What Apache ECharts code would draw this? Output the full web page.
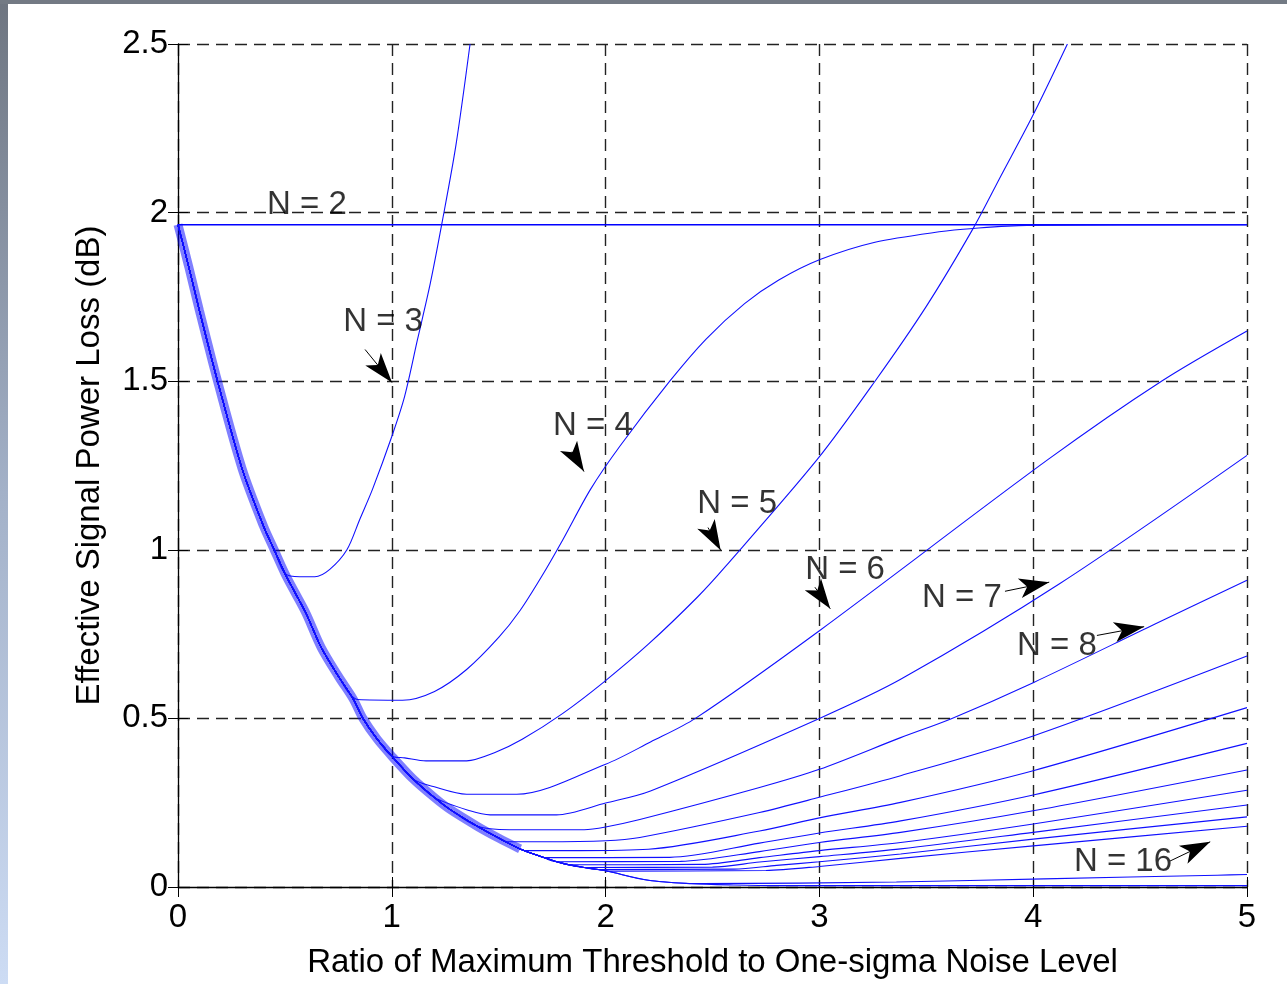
<!DOCTYPE html>
<html>
<head>
    <meta charset="utf-8">
    <title>Effective Signal Power Loss</title>
    <script src="https://cdn.jsdelivr.net/npm/echarts@6/dist/echarts.min.js"></script>
    <style>
        *{margin:0;padding:0}
        #main {
            width: 1287px;
            height: 984px;
            background: #fff;
        }
    </style>
</head>
<body>
    <div id="main"></div>
    <script type="text/javascript">
        // common descent that all N >= 3 curves follow before they break away
        var envelope = [[0,1.964],[0.05,1.84],[0.1,1.71],[0.185,1.5],[0.3,1.24],[0.4,1.07],[0.45,1.0],[0.5,0.93],
            [0.55,0.87],[0.6,0.81],[0.67,0.71],[0.75,0.625],[0.82,0.557],[0.865,0.5],[0.93,0.44],[1.0,0.388],
            [1.1,0.32],[1.2,0.265],[1.27,0.231],[1.4,0.18],[1.5,0.145],[1.6,0.113],[1.7,0.09],[1.8,0.07],
            [1.9,0.058],[2.0,0.048],[2.2,0.02],[2.4,0.01],[2.6,0.006],[2.8,0.004],[5,0.004]];

        // own part of each curve, from the point where it leaves the envelope
        var n2 = [[0,1.964],[5,1.964]];
        var n3 = [[0.5,0.93],[0.57,0.92],[0.64,0.92],[0.71,0.942],[0.79,1.0],[0.85,1.09],[0.91,1.18],[1.0,1.336],
            [1.06,1.455],[1.12,1.623],[1.18,1.79],[1.235,1.97],[1.3,2.2],[1.366,2.5]];
        var n4 = [[0.8,0.575],[0.84,0.556],[1.05,0.554],[1.2,0.58],[1.35,0.645],[1.5,0.74],[1.6,0.82],[1.7,0.92],
            [1.8,1.03],[1.93,1.18],[2.07,1.31],[2.3,1.5],[2.47,1.625],[2.65,1.73],[2.81,1.8],[3.0,1.86],
            [3.26,1.912],[3.56,1.943],[3.72,1.953],[3.97,1.962],[5,1.964]];
        var n5 = [[1.0,0.388],[1.06,0.383],[1.16,0.374],[1.35,0.374],[1.48,0.398],[1.61,0.438],[1.8,0.515],[1.99,0.607],
            [2.2,0.72],[2.43,0.86],[2.56,0.95],[2.99,1.268],[3.26,1.5],[3.5,1.722],[3.72,1.954],[3.85,2.11],[4.0,2.29],[4.16,2.5]];
        var n6 = [[1.1,0.32],[1.194,0.298],[1.35,0.275],[1.584,0.275],[2.0,0.364],[2.21,0.43],[2.42,0.5],[3.0,0.76],
            [4.07,1.268],[4.6,1.5],[5,1.649]];
        var n7 = [[1.2,0.265],[1.366,0.226],[1.46,0.214],[1.77,0.214],[2.0,0.249],[2.21,0.285],[3.0,0.5],[3.38,0.616],
            [4.125,0.9],[5,1.28]];
        var n8 = [[1.4,0.18],[1.55,0.17],[1.9,0.17],[2.0,0.178],[2.16,0.2],[2.72,0.295],[3.0,0.349],[3.38,0.443],
            [3.62,0.5],[4.0,0.606],[4.57,0.78],[5,0.91]];
        var n9 = [[1.54,0.134],[1.71,0.134],[2.0,0.137],[2.16,0.147],[2.72,0.221],[3.0,0.266],[3.38,0.33],[4.0,0.448],[5,0.685]];
        var n10 = [[1.62,0.108],[1.88,0.108],[2.2,0.112],[2.72,0.166],[3.0,0.205],[3.38,0.251],[4.0,0.345],[5,0.532]];
        var n11 = [[1.72,0.087],[2.3,0.088],[2.72,0.13],[3.0,0.16],[3.38,0.196],[4.0,0.273],[5,0.426]];
        var n12 = [[1.77,0.075],[2.35,0.076],[2.72,0.105],[3.0,0.132],[3.38,0.162],[4.0,0.226],[5,0.347]];
        var n13 = [[1.83,0.066],[2.45,0.067],[2.72,0.087],[3.0,0.108],[3.38,0.132],[4.0,0.187],[5,0.287]];
        var n14 = [[1.9,0.058],[2.5,0.059],[2.72,0.074],[3.0,0.09],[3.38,0.113],[4.0,0.162],[5,0.243]];
        var n15 = [[1.96,0.052],[2.6,0.053],[2.8,0.064],[3.0,0.075],[3.38,0.098],[4.0,0.142],[5,0.208]];
        var n16 = [[2.01,0.047],[2.75,0.049],[3.0,0.061],[3.38,0.085],[4.0,0.122],[5,0.18]];
        // two unlabelled curves that stay close to zero
        var lowA = [[2.2,0.02],[2.45,0.01],[3.36,0.015],[4.05,0.024],[4.86,0.035],[5,0.037]];

        var labelNames = ['N = 2','N = 3','N = 4','N = 5','N = 6','N = 7','N = 8','N = 16'];
        var labelAt = [[0.603,2.023],[0.959,1.677],[1.941,1.366],[2.615,1.137],[3.12,0.939],[3.667,0.856],[4.111,0.714],[4.42,0.074]];
        var arrowFrom = [[0.875,1.594],[1.843,1.291],[2.479,1.066],[2.979,0.889],[3.868,0.877],[4.298,0.746],[4.64,0.077]];
        var arrowTo = [[1.001,1.496],[1.899,1.232],[2.538,0.999],[3.051,0.825],[4.075,0.904],[4.519,0.772],[4.828,0.134]];

        var FONT = '"Liberation Sans", Arial, Helvetica, sans-serif';

        function withEnvelope(pts) {
            var x0 = pts[0][0];
            return envelope.filter(function (p) { return p[0] < x0; }).concat(pts);
        }

        var curves = [
            ['N = 3', n3], ['N = 4', n4], ['N = 5', n5], ['N = 6', n6], ['N = 7', n7], ['N = 8', n8],
            ['N = 9', n9], ['N = 10', n10], ['N = 11', n11], ['N = 12', n12], ['N = 13', n13],
            ['N = 14', n14], ['N = 15', n15], ['N = 16', n16], ['low A', lowA]
        ];

        var series = [];
        // the overlapping start of all curves reads as a thick band
        series.push({
            name: 'bundle', type: 'line', data: envelope.filter(function (p) { return p[0] <= 1.6; }),
            showSymbol: false, smooth: 0.3, silent: true,
            lineStyle: { color: '#0000ff', width: 9, opacity: 0.5 }
        });
        series.push({
            name: 'N = 2', type: 'line', data: n2, showSymbol: false, silent: true,
            lineStyle: { color: '#0000ff', width: 1.6 }
        });
        curves.forEach(function (c) {
            series.push({
                name: c[0], type: 'line', data: withEnvelope(c[1]),
                showSymbol: false, smooth: 0.3, silent: true,
                lineStyle: { color: '#1010ff', width: 1.1 }
            });
        });
        series.push({
            name: 'low B', type: 'line', data: envelope, showSymbol: false, smooth: 0.3, silent: true,
            lineStyle: { color: '#1010ff', width: 1.1 }
        });
        series.push({
            name: 'arrows', type: 'lines', coordinateSystem: 'cartesian2d', silent: true, z: 5,
            symbol: ['none', 'arrow'], symbolSize: [1, [15, 30]],
            lineStyle: { color: '#000', width: 1, opacity: 1 },
            itemStyle: { color: '#000' },
            data: arrowFrom.map(function (p, i) { return { coords: [p, arrowTo[i]] }; })
        });
        series.push({
            name: 'labels', type: 'scatter', symbolSize: 0, silent: true, z: 6,
            data: labelAt.map(function (p, i) { return { value: p, name: labelNames[i] }; }),
            label: {
                show: true, position: 'inside', formatter: '{b}',
                color: '#000', fontSize: 33, fontFamily: FONT
            }
        });

        var myChart = echarts.init(document.getElementById('main'));
        var option = {
            animation: false,
            backgroundColor: '#fff',
            graphic: [
                { type: 'rect', left: 0, top: 0, z: 100, shape: { width: 8, height: 984 },
                  style: { fill: new echarts.graphic.LinearGradient(0, 0, 0, 1, [
                      { offset: 0, color: '#6e7580' }, { offset: 0.5, color: '#a3b1c8' }, { offset: 1, color: '#cddcf4' }]) } },
                { type: 'rect', left: 0, top: 0, z: 100, shape: { width: 1287, height: 4 },
                  style: { fill: '#737a84' } }
            ],
            grid: { left: 178, right: 40, top: 44, bottom: 96 },
            xAxis: [{
                type: 'value', min: 0, max: 5, interval: 1,
                name: 'Ratio of Maximum Threshold to One-sigma Noise Level',
                nameLocation: 'middle', nameGap: 59,
                nameTextStyle: { color: '#000', fontSize: 33, fontFamily: FONT },
                axisLine: { lineStyle: { color: '#000', width: 1.3 } },
                axisTick: { inside: true, length: 10, lineStyle: { color: '#000' } },
                axisLabel: { color: '#000', fontSize: 33, fontFamily: FONT, margin: 14 },
                splitLine: { show: true, lineStyle: { color: '#222', width: 1.4, type: [12, 7] } }
            }, {
                type: 'value', min: 0, max: 5, interval: 1, position: 'top',
                axisLine: { show: false }, axisLabel: { show: false }, splitLine: { show: false },
                axisTick: { inside: true, length: 10, lineStyle: { color: '#000' } }
            }],
            yAxis: [{
                type: 'value', min: 0, max: 2.5, interval: 0.5,
                name: 'Effective Signal Power Loss (dB)',
                nameLocation: 'middle', nameGap: 72,
                nameTextStyle: { color: '#000', fontSize: 33, fontFamily: FONT },
                axisLine: { show: true, lineStyle: { color: '#000', width: 1.3 } },
                axisTick: { inside: true, length: 10, lineStyle: { color: '#000' } },
                axisLabel: { color: '#000', fontSize: 33, fontFamily: FONT, margin: 10 },
                splitLine: { show: true, lineStyle: { color: '#222', width: 1.4, type: [12, 7] } }
            }, {
                type: 'value', min: 0, max: 2.5, interval: 0.5, position: 'right',
                axisLine: { show: false }, axisLabel: { show: false }, splitLine: { show: false },
                axisTick: { show: true, inside: true, length: 10, lineStyle: { color: '#000' } }
            }],
            series: series
        };
        myChart.setOption(option);
    </script>
</body>
</html>
